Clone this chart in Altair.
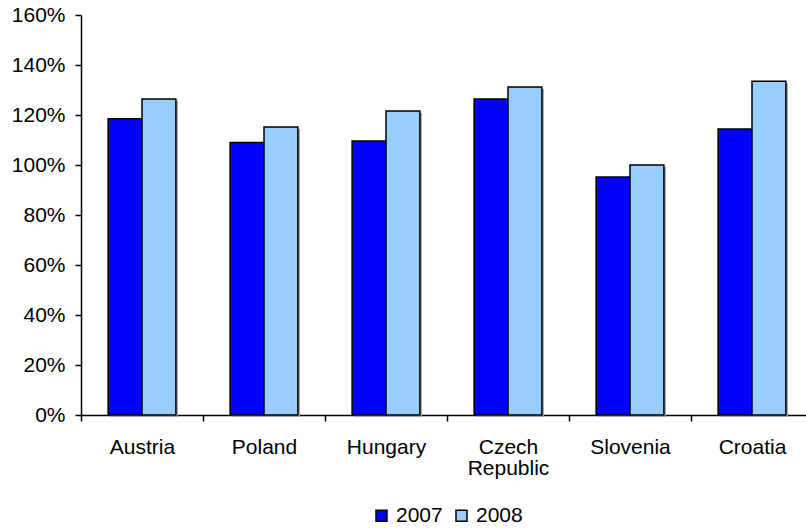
import altair as alt
import pandas as pd

# Country categories and ratios per year (1.0 = 100%)
countries = ["Austria", "Poland", "Hungary", "Czech Republic", "Slovenia", "Croatia"]
years = ["2007", "2008"]
values_2007 = [1.185, 1.090, 1.096, 1.264, 0.952, 1.144]
values_2008 = [1.264, 1.152, 1.216, 1.312, 1.000, 1.335]
y_ticks = [0, 0.2, 0.4, 0.6, 0.8, 1.0, 1.2, 1.4, 1.6]
year_colors = ["#0000ff", "#99ccff"]

rows = []
for c, a, b in zip(countries, values_2007, values_2008):
    rows.append({"country": c, "year": years[0], "value": a})
    rows.append({"country": c, "year": years[1], "value": b})
df = pd.DataFrame(rows)

FONT = "Liberation Sans"
FS = 21
BAND = 122  # pixel width of one country band

x_enc = alt.X(
    "country:N",
    sort=countries,
    scale=alt.Scale(paddingInner=0, paddingOuter=0, range=[0, 6 * BAND]),
    axis=alt.Axis(
        title=None,
        labelAngle=0,
        tickBand="extent",
        tickSize=6,
        labelPadding=15,
        labelExpr="split(datum.label, ' ')",
        labelLineHeight=21,
    ),
)
y_enc = alt.Y(
    "value:Q",
    scale=alt.Scale(domain=[0, 1.6], nice=False),
    axis=alt.Axis(
        title=None,
        format=".0%",
        values=y_ticks,
        grid=False,
        tickSize=6,
        labelPadding=10,
    ),
)

base = alt.Chart(df)

# soft drop shadow: same bars, nudged 2px right and down
shadow = base.mark_bar(color="#a0a0a0", yOffset=2).encode(
    x=x_enc,
    xOffset=alt.XOffset(
        "year:N",
        sort=years,
        scale=alt.Scale(paddingInner=0, paddingOuter=0.8, range=[2, BAND + 2]),
    ),
    y=y_enc,
)

bars = base.mark_bar(stroke="black", strokeWidth=1.5).encode(
    x=x_enc,
    xOffset=alt.XOffset(
        "year:N",
        sort=years,
        scale=alt.Scale(paddingInner=0, paddingOuter=0.8, range=[0, BAND]),
    ),
    y=y_enc,
    color=alt.Color(
        "year:N",
        sort=years,
        scale=alt.Scale(domain=years, range=year_colors),
        legend=alt.Legend(
            title=None,
            orient="none",
            direction="horizontal",
            legendX=290,
            legendY=490,
            symbolType="square",
            symbolSize=121,
            symbolStrokeColor="black",
            symbolStrokeWidth=1.5,
            symbolOpacity=1,
            labelFontSize=FS,
            labelFont=FONT,
            labelColor="black",
            labelOffset=4,
            columnPadding=8,
            padding=0,
        ),
    ),
)

chart = alt.layer(shadow, bars).resolve_scale(
    xOffset="independent"
).properties(
    width=725,
    height=400,
    autosize="none",
    background="white",
    padding={"left": 81, "top": 15, "right": 0, "bottom": 113},
).configure_view(
    stroke=None
).configure_axis(
    labelFont=FONT,
    labelFontSize=FS,
    labelColor="black",
    domainColor="black",
    tickColor="black",
    domainWidth=1.5,
    tickWidth=1.5,
)

chart.save("out.html", embed_options={"renderer": "svg", "actions": False})
